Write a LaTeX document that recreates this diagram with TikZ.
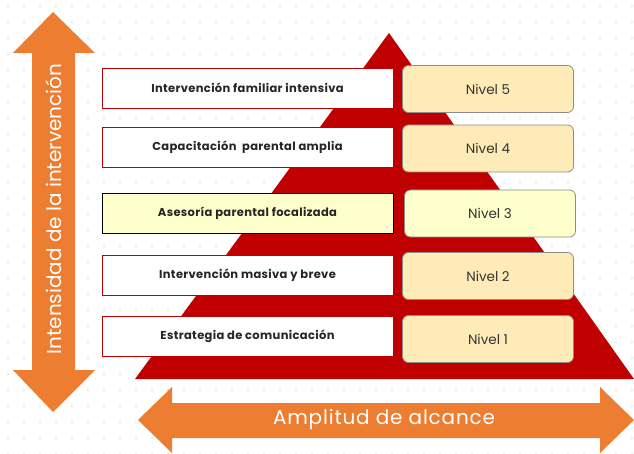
\documentclass[tikz,border=0pt]{standalone}
\usepackage{fontspec}
\setmainfont{Poppins}
\usetikzlibrary{shapes,backgrounds}
\definecolor{rojo}{HTML}{C00000}
\definecolor{naranja}{HTML}{ED7D31}
\definecolor{crema}{HTML}{FFEBB7}
\definecolor{amarillo}{HTML}{FFFFCC}

\begin{document}
\begin{tikzpicture}[x=1pt,y=-1pt,
  tipo/.style={draw=rojo,fill=white,line width=0.8pt,minimum width=291pt,minimum height=40pt,font=\fontsize{11.5}{13}\selectfont\bfseries\addfontfeatures{LetterSpace=3},text=black!85},
  nivel/.style={draw=black!45,fill=crema,line width=0.8pt,rounded corners=6pt,minimum width=171pt,minimum height=47pt,font=\fontsize{13.5}{15}\selectfont,text=black!80}]
\useasboundingbox (0,0) rectangle (634,454);
\fill[white] (0,0) rectangle (634,454);
% fondo punteado
\foreach \i in {0,...,39}
  \foreach \j in {0,...,28}
    \fill[black!8] (8+16*\i,6+16*\j) circle (1.4pt);
% flechas
\fill[naranja] (53,12) -- (95,53) -- (75,53) -- (75,370) -- (95,370) -- (53,412)
  -- (13,370) -- (32,370) -- (32,53) -- (13,53) -- cycle;
\fill[naranja] (138,420) -- (172,387) -- (172,403) -- (600,403) -- (600,387) -- (634,420)
  -- (600,453) -- (600,438) -- (172,438) -- (172,453) -- cycle;
\node[rotate=90,text=white,font=\fontsize{20}{22}\selectfont] (intens) at (54,209) {Intensidad de la intervención};
\node[text=white,font=\fontsize{20}{22}\selectfont\addfontfeatures{LetterSpace=4}] (alcance) at (384,419) {Amplitud de alcance};
% piramide
\fill[rojo] (389,33) -- (634,379) -- (135,379) -- cycle;
% cajas
\node[tipo] (t5) at (247.5,88) {Intervención familiar intensiva};
\node[tipo] (t4) at (247.5,147) {Capacitación\ \ parental amplia};
\node[tipo,draw=black,fill=amarillo] (t3) at (247.5,213) {Asesoría parental focalizada};
\node[tipo] (t2) at (247.5,275) {Intervención masiva y breve};
\node[tipo] (t1) at (247.5,336) {Estrategia de comunicación};
\node[nivel] (n5) at (488,89) {Nivel 5};
\node[nivel] (n4) at (488,148.5) {Nivel 4};
\node[nivel,fill=amarillo] (n3) at (490,213.5) {Nivel 3};
\node[nivel] (n2) at (488,276) {Nivel 2};
\node[nivel] (n1) at (488,339) {Nivel 1};
\end{tikzpicture}
\end{document}
